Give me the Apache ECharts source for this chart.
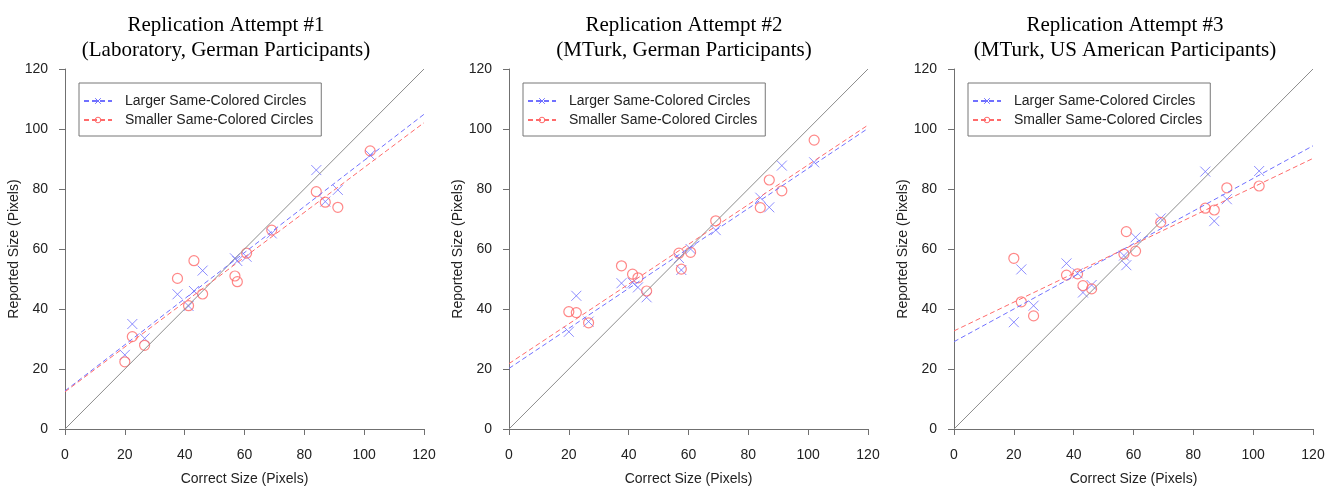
<!DOCTYPE html>
<html>
<head>
<meta charset="utf-8">
<script src="https://cdn.jsdelivr.net/npm/echarts@6.0.0/dist/echarts.min.js"></script>
<style>
  html, body { margin: 0; padding: 0; background: #fff; }
  #main { width: 1338px; height: 488px; }
</style>
</head>
<body>
<div id="main"></div>
<script>
// correct circle sizes (x), same for every attempt
var correctSize = [20, 22.5, 26.6, 37.6, 41.3, 43.1, 46, 56.8, 57.6, 60.7, 69.1, 84, 87, 91.2, 102];

// reported sizes, attempt #1 (laboratory, German)
var larger1  = [24.7, 35, 30.2, 44.9, 41, 46, 52.8, 56.9, 56, 57.4, 65.2, 86.3, 75.8, 79.7, 91.3];
var smaller1 = [22.4, 30.8, 27.9, 50.2, 41.1, 56.1, 45, 51, 49.1, 58.6, 66.3, 79.1, 75.6, 73.9, 92.7];
// attempt #2 (MTurk, German)
var larger2  = [32.4, 44.4, 35.8, 48.6, 48.8, 47.2, 43.9, 57, 53, 60, 66.3, 77.1, 73.9, 87.8, 88.9];
var smaller2 = [39.1, 38.8, 35.4, 54.4, 51.6, 50.4, 46, 58.6, 53.3, 58.9, 69.4, 73.8, 83, 79.4, 96.3];
// attempt #3 (MTurk, US)
var larger3  = [35.6, 53.2, 41.1, 55.2, 51.9, 45.5, 48, 57.8, 54.6, 63.9, 70.2, 85.8, 69.3, 76.6, 86];
var smaller3 = [56.9, 42.4, 37.7, 51.3, 51.7, 47.8, 46.7, 58.3, 65.8, 59.3, 68.9, 73.6, 73, 80.4, 81];

// fitted lines: reported size at x = 0 and x = 120
var fitLarger  = [[12.7, 104.9], [20.2, 100.2], [29.1, 94.4]];
var fitSmaller = [[12.4, 102.1], [21.8, 101.3], [32.7, 90.2]];

var titles = [
    'Replication Attempt #1\n(Laboratory, German Participants)',
    'Replication Attempt #2\n(MTurk, German Participants)',
    'Replication Attempt #3\n(MTurk, US American Participants)'
];
var nameLarger = 'Larger Same-Colored Circles';
var nameSmaller = 'Smaller Same-Colored Circles';

var dom = document.getElementById('main');
var myChart = echarts.init(dom);

var BLUE = '#7070ff', RED = '#ff6a6a', GREY = '#8c8c8c';
var crossPath = 'path://M0,0L10,10M10,0L0,10';
var gridLeft = [65, 509, 954];
var titleX = [221, 679, 1120];
var larger = [larger1, larger2, larger3];
var smaller = [smaller1, smaller2, smaller3];

function pts(ys) {
    return correctSize.map(function (x, i) { return [x, ys[i]]; });
}

var option = {
    animation: false,
    title: [], legend: [], grid: [], xAxis: [], yAxis: [], series: []
};

for (var p = 0; p < 3; p++) {
    option.title.push({
        text: titles[p],
        left: titleX[p],
        textAlign: 'center',
        top: 8,
        textStyle: {
            fontFamily: 'Liberation Serif', fontSize: 21, fontWeight: 'normal',
            color: '#000', lineHeight: 25
        }
    });
    option.grid.push({ left: gridLeft[p], top: 69, width: 359, height: 360, outerBoundsMode: 'none' });
    var axisCommon = {
        gridIndex: p, type: 'value', min: 0, max: 120, interval: 20,
        nameLocation: 'middle',
        nameTextStyle: { fontFamily: 'Liberation Sans', fontSize: 14, color: '#222' },
        axisLine: { show: true, lineStyle: { color: '#707070', width: 1 } },
        axisTick: { show: true, length: 6, lineStyle: { color: '#707070' } },
        axisLabel: { fontFamily: 'Liberation Sans', fontSize: 14, color: '#222' },
        splitLine: { show: false }
    };
    option.xAxis.push(Object.assign({}, axisCommon, {
        name: 'Correct Size (Pixels)', nameGap: 43,
        axisLabel: Object.assign({}, axisCommon.axisLabel, { margin: 19 })
    }));
    option.yAxis.push(Object.assign({}, axisCommon, {
        name: 'Reported Size (Pixels)', nameGap: 42,
        axisLabel: Object.assign({}, axisCommon.axisLabel, { margin: 17 })
    }));
    option.legend.push({
        left: gridLeft[p] + 14, top: 83,
        orient: 'vertical',
        data: [nameLarger, nameSmaller],
        itemWidth: 28, itemHeight: 7, itemGap: 5,
        padding: [11, 8, 9, 4],
        borderColor: '#777', borderWidth: 1,
        itemStyle: { borderWidth: 1 },
        textStyle: { fontFamily: 'Liberation Sans', fontSize: 14, color: '#222', padding: [0, 0, 0, 8] }
    });
    // identity line
    option.series.push({
        type: 'line', name: 'identity', xAxisIndex: p, yAxisIndex: p,
        data: [[0, 0], [120, 120]], showSymbol: false, symbol: 'none', silent: true,
        lineStyle: { color: GREY, width: 1 }
    });
    // fitted lines (also carry the legend icons)
    option.series.push({
        type: 'line', name: nameLarger, xAxisIndex: p, yAxisIndex: p,
        data: [[0, fitLarger[p][0]], [120, fitLarger[p][1]]],
        showSymbol: false, symbol: crossPath, symbolSize: 8,
        itemStyle: { color: 'rgba(0,0,0,0)', borderColor: BLUE, borderWidth: 1 },
        lineStyle: { color: BLUE, width: 1, type: [5, 3] }
    });
    option.series.push({
        type: 'line', name: nameSmaller, xAxisIndex: p, yAxisIndex: p,
        data: [[0, fitSmaller[p][0]], [120, fitSmaller[p][1]]],
        showSymbol: false, symbol: 'circle', symbolSize: 8,
        itemStyle: { color: 'rgba(0,0,0,0)', borderColor: RED, borderWidth: 1 },
        lineStyle: { color: RED, width: 1, type: [5, 3] }
    });
    option.series.push({
        type: 'scatter', name: nameLarger, xAxisIndex: p, yAxisIndex: p,
        data: pts(larger[p]), symbol: crossPath, symbolSize: 10,
        itemStyle: { color: 'rgba(0,0,0,0)', borderColor: BLUE, borderWidth: 1 }
    });
    option.series.push({
        type: 'scatter', name: nameSmaller, xAxisIndex: p, yAxisIndex: p,
        data: pts(smaller[p]), symbol: 'circle', symbolSize: 10,
        itemStyle: { color: 'rgba(0,0,0,0)', borderColor: RED, borderWidth: 1.2 }
    });
}

myChart.setOption(option);
</script>
</body>
</html>
